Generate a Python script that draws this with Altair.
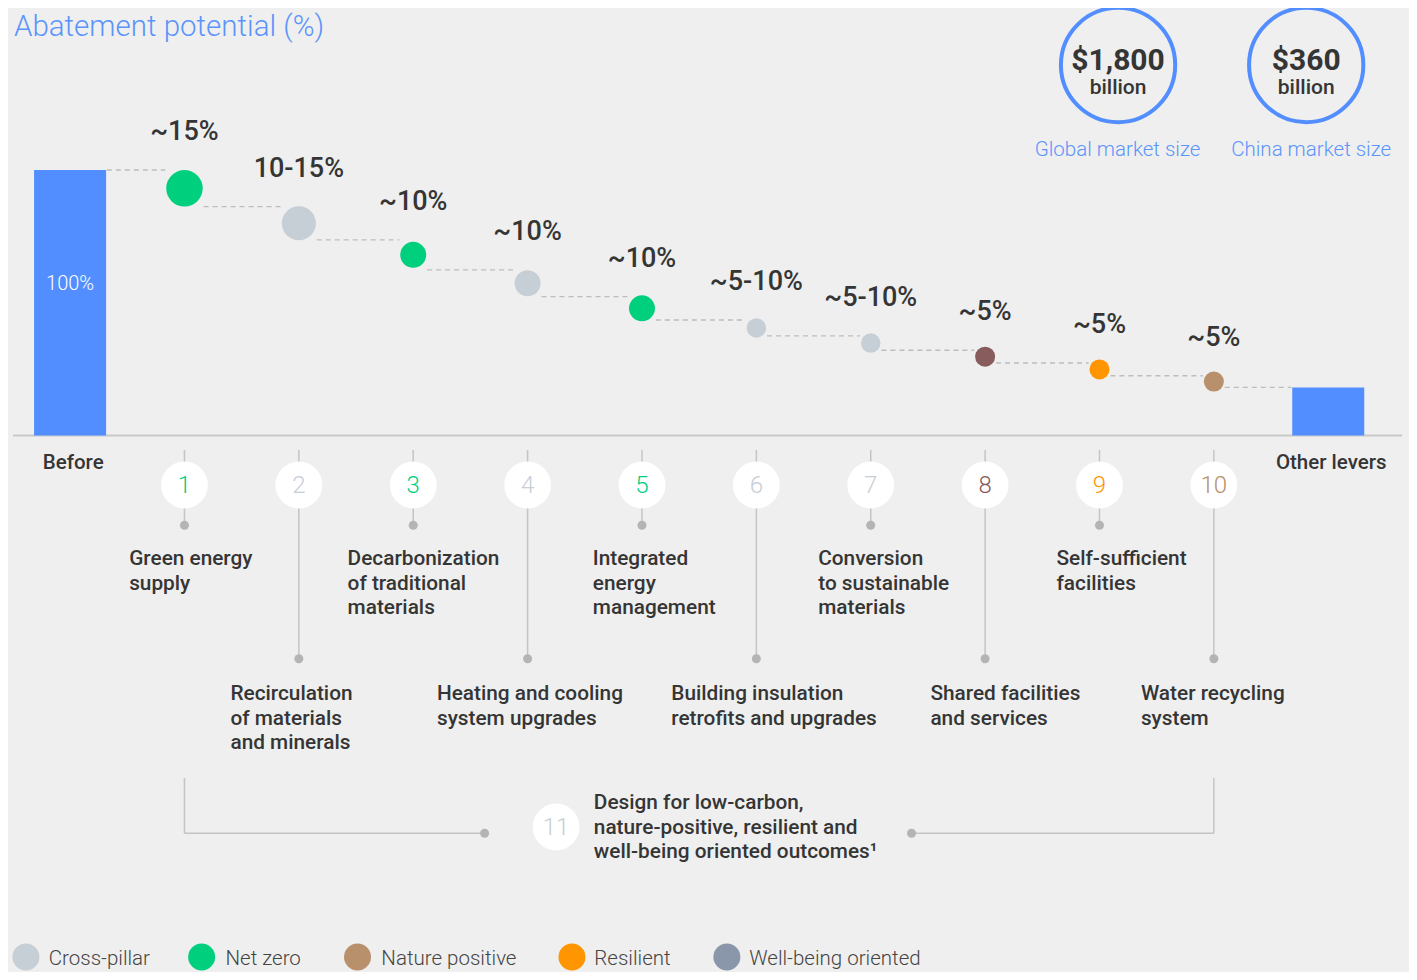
import altair as alt
import pandas as pd

# ---------------- data ----------------
TITLE = "Abatement potential (%)"
BASELINE_LABELS = ["Before", "Other levers"]
BEFORE_VALUE = 100
LEVER_NUMBERS = [1, 2, 3, 4, 5, 6, 7, 8, 9, 10]
LEVER_NAMES = [
    "Green energy\nsupply",
    "Recirculation\nof materials\nand minerals",
    "Decarbonization\nof traditional\nmaterials",
    "Heating and cooling\nsystem upgrades",
    "Integrated\nenergy\nmanagement",
    "Building insulation\nretrofits and upgrades",
    "Conversion\nto sustainable\nmaterials",
    "Shared facilities\nand services",
    "Self-sufficient\nfacilities",
    "Water recycling\nsystem",
]
ABATEMENT_LABELS = ["~15%", "10-15%", "~10%", "~10%", "~10%", "~5-10%", "~5-10%", "~5%", "~5%", "~5%"]
ABATEMENT_VALUES = [13.8, 12.5, 11.3, 10.1, 8.8, 6.0, 5.4, 4.8, 4.8, 4.4]
LEVER_PILLARS = ["Net zero", "Cross-pillar", "Net zero", "Cross-pillar", "Net zero",
                 "Cross-pillar", "Cross-pillar", "Shared", "Resilient", "Nature positive"]
LEGEND_PILLARS = ["Cross-pillar", "Net zero", "Nature positive", "Resilient", "Well-being oriented"]
MARKET_AMOUNTS = ["$1,800", "$360"]
MARKET_UNITS = ["billion", "billion"]
MARKET_NAMES = ["Global market size", "China market size"]
DESIGN_NUMBER = "11"
DESIGN_PILLAR = "Cross-pillar"
DESIGN_TEXT = "Design for low-carbon,\nnature-positive, resilient and\nwell-being oriented outcomes\u00b9"

# ---------------- styles ----------------
FONT = "Roboto"
DARK = "#353535"
BLUE = "#528EFF"
TITLE_BLUE = "#5B94FB"
BG = "#EFEFEF"
GREY_LINE = "#C4C4C4"
GREY_DOT = "#B4B4B4"
PILLAR_COLORS = {
    "Cross-pillar": "#C6CED6",
    "Net zero": "#00CF7E",
    "Nature positive": "#B8906C",
    "Resilient": "#FF9500",
    "Well-being oriented": "#8A96AA",
    "Shared": "#885B5C",
}
DOT_DIAMETER = {"~15%": 36.5, "10-15%": 34, "~10%": 26, "~5-10%": 19.5, "~5%": 20}
BAR_WIDTH = 72

# ---------------- layout (page pixels -> data units) ----------------
W, H = 1401, 964
PX0, PX_STEP = 65.5, 115.2      # page x of lever index 0, px per lever
PY0, PY_PER = 435.5, 2.655      # page y of 0 %, px per percent


def X(px):
    return (px - PX0) / PX_STEP


def Y(py):
    return (PY0 - py) / PY_PER


XS = alt.Scale(domain=[X(8), X(8 + W)], nice=False, zero=False)
YS = alt.Scale(domain=[Y(8 + H), Y(8)], nice=False, zero=False)
COLOR = alt.Color("pillar:N", legend=None,
                  scale=alt.Scale(domain=list(PILLAR_COLORS), range=list(PILLAR_COLORS.values())))


def lay(df, mark, props, x="x", y="y", x2=None, y2=None, **enc):
    e = dict(x=alt.X(f"{x}:Q", scale=XS, axis=None), y=alt.Y(f"{y}:Q", scale=YS, axis=None))
    if x2:
        e["x2"] = alt.X2(f"{x2}:Q")
    if y2:
        e["y2"] = alt.Y2(f"{y2}:Q")
    e.update(enc)
    return getattr(alt.Chart(pd.DataFrame(df)), "mark_" + mark)(**props).encode(**e)


def txt(size, weight=400, color=DARK, align="left", baseline="alphabetic", **kw):
    return dict(font=FONT, fontSize=size, fontWeight=weight, color=color, align=align,
                baseline=baseline, **kw)


# ---------------- waterfall computation ----------------
levels = [BEFORE_VALUE]
for a in ABATEMENT_VALUES:
    levels.append(levels[-1] - a)
other_value = levels[-1]
n = len(LEVER_NUMBERS)
half_px = [BAR_WIDTH / 2] + [DOT_DIAMETER[l] / 2 for l in ABATEMENT_LABELS] + [BAR_WIDTH / 2]

layers = []

# baseline
layers.append(lay({"x": [X(8)], "x2": [X(1407)], "y": [0]}, "rule",
                  dict(color="#C9C9C9", strokeWidth=2), x2="x2"))

# dashed connectors
conn = {
    "x": [k - 1 + (half_px[k - 1] + 1) / PX_STEP for k in range(1, n + 2)],
    "x2": [k - (half_px[k] + 1) / PX_STEP for k in range(1, n + 2)],
    "y": [levels[k - 1] for k in range(1, n + 2)],
}
layers.append(lay(conn, "rule", dict(color="#BDBDBD", strokeWidth=1.3, strokeDash=[5, 4]), x2="x2"))

# bars
layers.append(lay({"x": [0, n + 1], "y": [BEFORE_VALUE, other_value], "y2": [0, 0]}, "bar",
                  dict(size=BAR_WIDTH, color=BLUE), y2="y2"))
layers.append(lay({"x": [0], "y": [BEFORE_VALUE], "t": [f"{BEFORE_VALUE}%"]}, "text",
                  txt(20, 300, "white", "center", "middle", dy=114), text="t:N"))

# dots (circle size = diameter^2)
dots = {
    "x": LEVER_NUMBERS,
    "y": [(levels[i - 1] + levels[i]) / 2 for i in LEVER_NUMBERS],
    "label": ABATEMENT_LABELS,
    "pillar": LEVER_PILLARS,
    "s": [DOT_DIAMETER[l] ** 2 for l in ABATEMENT_LABELS],
}
layers.append(lay(dots, "circle", dict(opacity=1), color=COLOR,
                  size=alt.Size("s:Q", scale=None, legend=None)))
layers.append(lay({"x": LEVER_NUMBERS, "y": levels[:-1], "t": ABATEMENT_LABELS}, "text",
                  txt(27, 500, DARK, "center", "middle", dy=-38), text="t:N"))

# baseline labels
layers.append(lay({"x": [X(38), X(1280)], "y": [Y(469), Y(469)], "t": BASELINE_LABELS}, "text",
                  txt(20.5, 500), text="t:N"))

# stems, end dots, number badges
stem_end = [Y(525.3) if i % 2 else Y(658.7) for i in LEVER_NUMBERS]
layers.append(lay({"x": LEVER_NUMBERS, "y": [Y(450)] * n, "y2": stem_end}, "rule",
                  dict(color=GREY_LINE, strokeWidth=1.5), y2="y2"))
layers.append(lay({"x": LEVER_NUMBERS, "y": stem_end}, "circle",
                  dict(color=GREY_DOT, size=81, opacity=1)))
layers.append(lay({"x": LEVER_NUMBERS, "y": [Y(485)] * n}, "circle",
                  dict(color="white", size=2200, opacity=1)))
layers.append(lay({"x": LEVER_NUMBERS, "y": [Y(485)] * n, "t": [str(v) for v in LEVER_NUMBERS],
                   "pillar": LEVER_PILLARS}, "text",
                  txt(24, 300, align="center", baseline="middle", dy=1), text="t:N", color=COLOR))

# lever names
LABEL_LEFT_PX = [125, 227, 345, 435, 592, 671, 819, 932, 1059, 1144]
label_base = [Y(565) if i % 2 else Y(700) for i in LEVER_NUMBERS]
layers.append(lay({"x": [X(p) for p in LABEL_LEFT_PX], "y": label_base, "t": LEVER_NAMES}, "text",
                  txt(20.8, 500, lineBreak="\n", lineHeight=24.5), text="t:N"))

# bracket for lever 11
by = Y(833.3)
layers.append(lay({"x": [1, 10], "y": [Y(778)] * 2, "y2": [by] * 2}, "rule",
                  dict(color=GREY_LINE, strokeWidth=1.5), y2="y2"))
layers.append(lay({"x": [1, X(913)], "x2": [X(483), 10], "y": [by] * 2}, "rule",
                  dict(color=GREY_LINE, strokeWidth=1.5), x2="x2"))
layers.append(lay({"x": [X(483), X(913)], "y": [by] * 2}, "circle",
                  dict(color=GREY_DOT, size=81, opacity=1)))
layers.append(lay({"x": [X(555)], "y": [Y(827)]}, "circle", dict(color="white", size=2200, opacity=1)))
layers.append(lay({"x": [X(555)], "y": [Y(827)], "t": [DESIGN_NUMBER], "pillar": [DESIGN_PILLAR]},
                  "text", txt(24, 300, align="center", baseline="middle", dy=1), text="t:N", color=COLOR))
layers.append(lay({"x": [X(593)], "y": [Y(809.3)], "t": [DESIGN_TEXT]}, "text",
                  txt(20.8, 500, lineBreak="\n", lineHeight=24.5), text="t:N"))

# title (kept inside the drawable area)
layers.append(lay({"x": [X(9)], "y": [Y(36)], "t": [TITLE]}, "text",
                  txt(29.5, 300, TITLE_BLUE), text="t:N"))

# market size badges
mx = [X(1121), X(1310.5)]
layers.append(lay({"x": mx, "y": [Y(65)] * 2}, "point",
                  dict(shape="circle", filled=False, size=13060, strokeWidth=4, color=BLUE, opacity=1)))
layers.append(lay({"x": mx, "y": [Y(70)] * 2, "t": MARKET_AMOUNTS}, "text",
                  txt(30, 700, align="center"), text="t:N"))
layers.append(lay({"x": mx, "y": [Y(93.5)] * 2, "t": MARKET_UNITS}, "text",
                  txt(21, 500, align="center"), text="t:N"))
layers.append(lay({"x": [X(1120.5), X(1315.5)], "y": [Y(156)] * 2, "t": MARKET_NAMES}, "text",
                  txt(20.5, 300, TITLE_BLUE, align="center"), text="t:N"))

# legend (lifted slightly so it stays inside the drawable area)
LEGEND_DOT_PX = [21, 198, 355, 571, 727]
LEGEND_TEXT_PX = [44, 222, 379, 593.5, 749.5]
layers.append(lay({"x": [X(p) for p in LEGEND_DOT_PX], "y": [Y(957)] * 5, "pillar": LEGEND_PILLARS},
                  "circle", dict(size=729, opacity=1), color=COLOR))
layers.append(lay({"x": [X(p) for p in LEGEND_TEXT_PX], "y": [Y(965)] * 5, "t": LEGEND_PILLARS},
                  "text", txt(20.5, 300, "#444444"), text="t:N"))

chart = alt.layer(*layers).properties(
    width=W, height=H, padding=0, autosize="none"
).configure(background=BG).configure_view(stroke=None)

chart.save("out.html", embed_options={"renderer": "svg", "actions": False})
